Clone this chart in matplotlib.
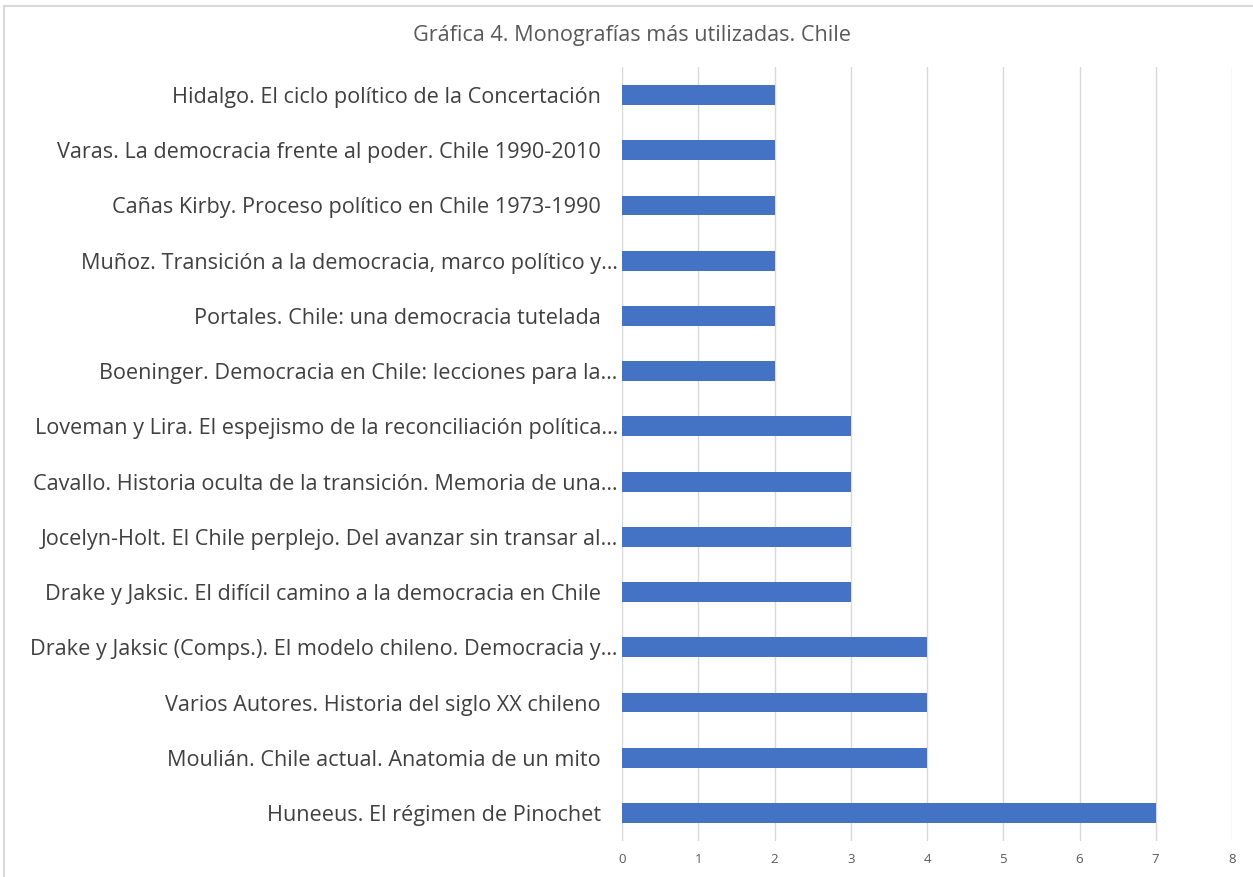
import matplotlib.pyplot as plt
from matplotlib.patches import Rectangle

# data, top to bottom as in the picture
pad = "\u00a0\u00a0\u00a0"
labels = [
    "Hidalgo. El ciclo político de la Concertación" + pad,
    "Varas. La democracia frente al poder. Chile 1990-2010" + pad,
    "Cañas Kirby. Proceso político en Chile 1973-1990" + pad,
    "Muñoz. Transición a la democracia, marco político y…",
    "Portales. Chile: una democracia tutelada" + pad,
    "Boeninger. Democracia en Chile: lecciones para la…",
    "Loveman y Lira. El espejismo de la reconciliación política…",
    "Cavallo. Historia oculta de la transición. Memoria de una…",
    "Jocelyn-Holt. El Chile perplejo. Del avanzar sin transar al…",
    "Drake y Jaksic. El difícil camino a la democracia en Chile" + pad,
    "Drake y Jaksic (Comps.). El modelo chileno. Democracia y…",
    "Varios Autores. Historia del siglo XX chileno" + pad,
    "Moulián. Chile actual. Anatomia de un mito" + pad,
    "Huneeus. El régimen de Pinochet" + pad,
]
values = [2, 2, 2, 2, 2, 2, 3, 3, 3, 3, 4, 4, 4, 7]
xticks = [0, 1, 2, 3, 4, 5, 6, 7, 8]

plt.rcParams['font.family'] = ['Open Sans', 'DejaVu Sans']

fig = plt.figure(figsize=(12.53, 8.77), dpi=100)
ax = fig.add_axes([622 / 1253, 1 - 840.6 / 877, 610 / 1253, (840.6 - 67.4) / 877])

pos = list(range(len(labels)))
ax.barh(pos, values, height=0.36, color='#4472C4', zorder=3)
ax.set_ylim(len(labels) - 0.5, -0.5)
ax.set_xlim(0, 8)
ax.set_xticks(xticks)
ax.set_yticks(pos)
ax.set_yticklabels(labels, fontsize=15.6, color='#404040')
ax.tick_params(axis='y', length=0, pad=3)
ax.tick_params(axis='x', length=0, pad=9, labelsize=9.5, labelcolor='#595959')
ax.grid(axis='x', color='#d9d9d9', linewidth=1, zorder=0)
for s in ax.spines.values():
    s.set_visible(False)

fig.text(632 / 1253, 1 - 35 / 877, "Gráfica 4. Monografías más utilizadas. Chile",
         ha='center', va='center', fontsize=15.6, color='#595959')

# chart frame
fig.patches.append(Rectangle((4 / 1253, -0.1), 1.2, 1 - 6 / 877 + 0.1,
                             transform=fig.transFigure, fill=False,
                             edgecolor='#d9d9d9', linewidth=1.5))

fig.savefig('out.png', dpi=100)
